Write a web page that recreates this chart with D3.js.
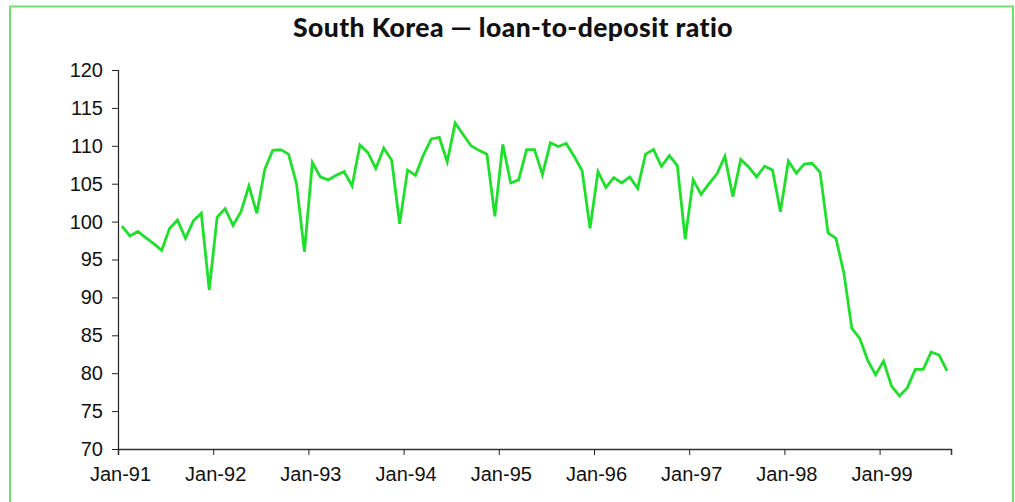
<!DOCTYPE html>
<html>
<head>
<meta charset="utf-8">
<script src="https://cdn.jsdelivr.net/npm/d3@7"></script>
<style>
  html, body { margin: 0; padding: 0; background: #fff; }
  svg { display: block; }
</style>
</head>
<body>
<svg id="chart" width="1015" height="502"></svg>
<script>
// Monthly loan-to-deposit ratio, Jan 1991 – Sep 1999 (%)
const ratio = [
  // 1991
  99.4, 98.1, 98.7, 97.9, 97.1, 96.2, 99.1, 100.2, 97.8, 100.1, 101.1, 91.0,
  // 1992
  100.6, 101.7, 99.5, 101.3, 104.7, 101.1, 106.9, 109.4, 109.5, 108.9, 105.0, 96.0,
  // 1993
  107.8, 105.9, 105.5, 106.1, 106.6, 104.7, 110.1, 109.1, 107.0, 109.7, 108.1, 99.7,
  // 1994
  106.8, 106.1, 108.8, 110.9, 111.1, 107.9, 113.0, 111.5, 110.0, 109.4, 108.9, 100.7,
  // 1995
  110.2, 105.1, 105.5, 109.5, 109.5, 106.2, 110.4, 109.9, 110.3, 108.6, 106.7, 99.1,
  // 1996
  106.6, 104.5, 105.8, 105.1, 105.9, 104.4, 108.9, 109.5, 107.3, 108.7, 107.4, 97.7,
  // 1997
  105.5, 103.6, 105.0, 106.3, 108.6, 103.3, 108.2, 107.2, 105.9, 107.3, 106.8, 101.3,
  // 1998
  108.0, 106.4, 107.6, 107.7, 106.5, 98.5, 97.8, 93.2, 85.9, 84.6, 81.7, 79.8,
  // 1999
  81.6, 78.3, 77.0, 78.1, 80.5, 80.5, 82.8, 82.4, 80.3
];
const yTicks = [70, 75, 80, 85, 90, 95, 100, 105, 110, 115, 120];
const yearLabels = ["Jan-91", "Jan-92", "Jan-93", "Jan-94", "Jan-95", "Jan-96", "Jan-97", "Jan-98", "Jan-99"];
const title = "South Korea \u2014 loan-to-deposit ratio";

const svg = d3.select("#chart");
const H = 502;
const plot = { left: 118, right: 951, top: 70, bottom: 449 };

// Frame around the whole figure
svg.append("rect")
  .attr("x", 10).attr("y", 6.5)
  .attr("width", 1003).attr("height", H)
  .attr("fill", "none")
  .attr("stroke", "#6fe06f")
  .attr("stroke-width", 2);

// Title
svg.append("text")
  .attr("x", 513).attr("y", 37)
  .attr("text-anchor", "middle")
  .attr("font-family", "Lato, 'Open Sans', sans-serif")
  .attr("font-weight", "900")
  .attr("font-size", 26.5)
  .attr("letter-spacing", 0.4)
  .attr("fill", "#111")
  .text(title);

// Category axis: one slot per month, points in slot centres
const n = ratio.length;
const x = d3.scaleLinear().domain([0, n]).range([plot.left, plot.right]);
const y = d3.scaleLinear().domain([70, 120]).range([plot.bottom, plot.top]);

const font = "'Liberation Sans', Arial, Helvetica, sans-serif";

// Y axis
const yAxis = svg.append("g")
  .attr("transform", `translate(${plot.left},0)`)
  .call(d3.axisLeft(y).tickValues(yTicks).tickSize(6).tickPadding(9).tickFormat(d3.format("d")));
yAxis.select(".domain").attr("stroke", "#222").attr("stroke-width", 1.2);
yAxis.selectAll(".tick line").attr("stroke", "#222");
yAxis.selectAll("text")
  .attr("font-family", font).attr("font-size", 20).attr("fill", "#111");

// X axis: ticks at the start of each January slot
const janIdx = yearLabels.map((_, k) => k * 12);
const xAxis = svg.append("g")
  .attr("transform", `translate(0,${plot.bottom})`)
  .call(d3.axisBottom(x).tickValues(janIdx).tickSize(6).tickPadding(12)
    .tickFormat((d, i) => yearLabels[i]));
xAxis.select(".domain").attr("stroke", "#333").attr("stroke-width", 1.5);
xAxis.selectAll(".tick line").attr("stroke", "#222");
xAxis.selectAll("text")
  .attr("font-family", font).attr("font-size", 20).attr("fill", "#111")
  .attr("dx", 2);

// Ratio line
const line = d3.line()
  .x((d, i) => x(i + 0.5))
  .y(d => y(d));
svg.append("path")
  .datum(ratio)
  .attr("d", line)
  .attr("fill", "none")
  .attr("stroke", "#1ee02a")
  .attr("stroke-width", 2.8)
  .attr("stroke-linejoin", "miter");
</script>
</body>
</html>
